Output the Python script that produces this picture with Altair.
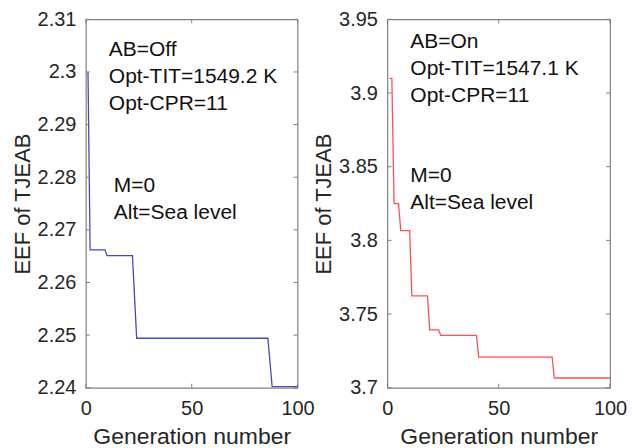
import altair as alt
import pandas as pd

# ---- data ----
gen_off = [1, 2, 9, 10, 22, 24, 86, 88, 100]
eef_off = [2.300, 2.2662, 2.2662, 2.2651, 2.2651, 2.2494, 2.2494, 2.2402, 2.2402]

gen_on = [1, 2, 3, 5, 6, 10, 11, 18, 19, 23, 24, 40, 41, 74, 75, 100]
eef_on = [3.910, 3.910, 3.825, 3.825, 3.8066, 3.8066, 3.7623, 3.7623, 3.7393,
          3.7393, 3.7355, 3.7355, 3.7208, 3.7208, 3.7066, 3.7066]

x_ticks = [0, 50, 100]
y_ticks_off = [2.24, 2.25, 2.26, 2.27, 2.28, 2.29, 2.30, 2.31]
y_ticks_on = [3.70, 3.75, 3.80, 3.85, 3.90, 3.95]

text_off_top = ["AB=Off", "Opt-TIT=1549.2 K", "Opt-CPR=11"]
text_off_bot = ["M=0", "Alt=Sea level"]
text_on_top = ["AB=On", "Opt-TIT=1547.1 K", "Opt-CPR=11"]
text_on_bot = ["M=0", "Alt=Sea level"]

FONT = "Liberation Sans"
TXT = "#262626"
BOX = "#808080"
H = 369


def panel(gens, vals, yticks, ydom, color, width, top_lines, bot_lines, y_top, y_bot):
    df = pd.DataFrame({"g": gens, "v": vals})
    xs = alt.Scale(domain=[0, 100], nice=False, zero=False)
    ys = alt.Scale(domain=ydom, nice=False, zero=False)
    xax = alt.Axis(
        values=x_ticks, title="Generation number", grid=False, ticks=False,
        domain=False, labelFontSize=20, titleFontSize=23, labelPadding=11,
        titlePadding=7, labelColor=TXT, titleColor=TXT, labelFont=FONT,
        titleFont=FONT, titleFontWeight="normal", labelFlush=False)
    yax = alt.Axis(
        values=yticks, title="EEF of TJEAB", grid=False, ticks=False,
        domain=False, format="~g", labelFontSize=20, titleFontSize=22,
        labelPadding=10, titlePadding=3, labelColor=TXT, titleColor=TXT,
        labelFont=FONT, titleFont=FONT, titleFontWeight="normal",
        labelFlush=False)
    line = alt.Chart(df).mark_line(color=color, strokeWidth=1.3, clip=True).encode(
        x=alt.X("g:Q", scale=xs, axis=xax),
        y=alt.Y("v:Q", scale=ys, axis=yax),
    )
    ydf = pd.DataFrame({"v": yticks})
    xdf = pd.DataFrame({"g": x_ticks})
    yl = alt.Chart(ydf).mark_rule(color=BOX, strokeWidth=1).encode(
        y=alt.Y("v:Q", scale=ys, axis=yax), x=alt.value(0), x2=alt.value(4))
    yr = alt.Chart(ydf).mark_rule(color=BOX, strokeWidth=1).encode(
        y=alt.Y("v:Q", scale=ys, axis=yax), x=alt.value(width - 4), x2=alt.value(width))
    xb = alt.Chart(xdf).mark_rule(color=BOX, strokeWidth=1).encode(
        x=alt.X("g:Q", scale=xs, axis=xax), y=alt.value(H - 4), y2=alt.value(H))
    xt = alt.Chart(xdf).mark_rule(color=BOX, strokeWidth=1).encode(
        x=alt.X("g:Q", scale=xs, axis=xax), y=alt.value(0), y2=alt.value(4))
    t1 = alt.Chart(pd.DataFrame({"a": [0]})).mark_text(
        align="left", baseline="middle", fontSize=21, font=FONT, color="#111",
        lineHeight=27).encode(x=alt.value(top_lines[1]), y=alt.value(y_top), text=alt.value(top_lines[0]))
    t2 = alt.Chart(pd.DataFrame({"a": [0]})).mark_text(
        align="left", baseline="middle", fontSize=21, font=FONT, color="#111",
        lineHeight=27).encode(x=alt.value(y_bot[0]), y=alt.value(y_bot[1]), text=alt.value(bot_lines))
    return alt.layer(line, yl, yr, xb, xt, t1, t2).properties(width=width, height=H)


left = panel(gen_off, eef_off, y_ticks_off, [2.24, 2.31], "#4646c6", 212,
             (text_off_top, 23), text_off_bot, 31, (28, 167))
right = panel(gen_on, eef_on, y_ticks_on, [3.70, 3.95], "#ff5050", 223,
              (text_on_top, 23), text_on_bot, 23, (23, 157))

chart = alt.hconcat(left, right, spacing=90, bounds="flush").configure_view(
    stroke=BOX, strokeWidth=1.2).properties(padding={"left": 2, "top": 0, "right": 0, "bottom": 0},
                                            background="white")

chart.save("out.html", embed_options={"renderer": "svg", "actions": False})
